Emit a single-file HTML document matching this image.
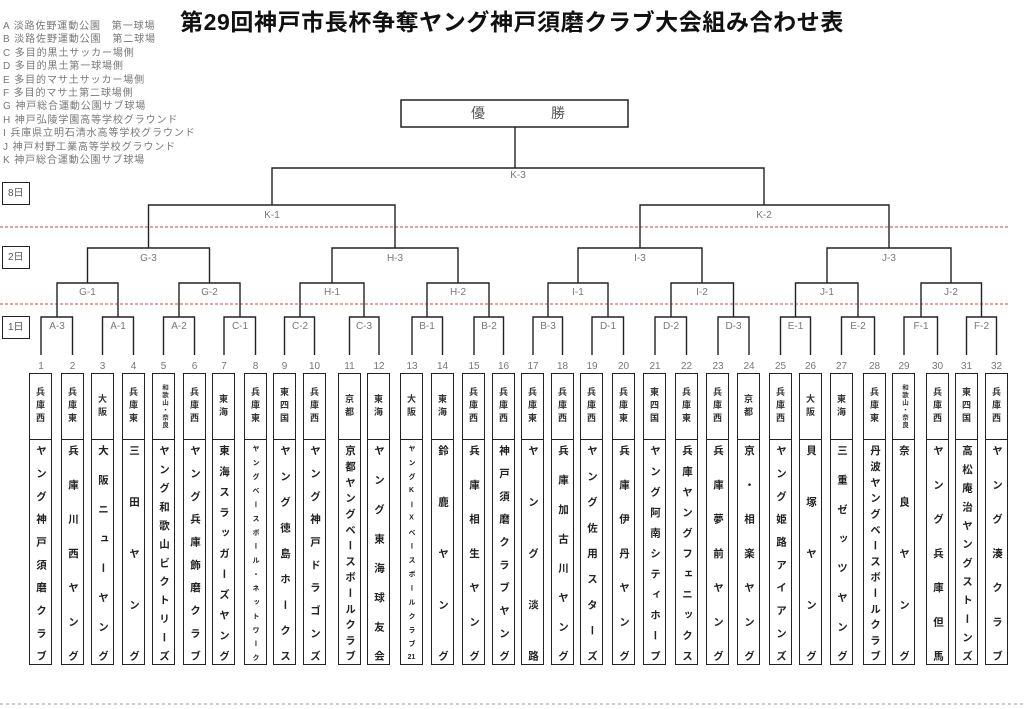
<!DOCTYPE html>
<html><head><meta charset="utf-8"><style>
body{margin:0;width:1024px;height:709px;background:#fff;position:relative;overflow:hidden;font-family:"Liberation Sans","Noto Sans CJK JP",sans-serif}
.t{position:absolute;left:0;width:1024px;top:3px;text-align:center;font-size:23px;font-weight:bold;color:#111;letter-spacing:0.6px}
.lg{position:absolute;left:3px;top:20px;font-size:10px;line-height:13.4px;color:#777;letter-spacing:0.9px}
.d{position:absolute;left:2px;width:26px;height:21px;border:1.5px solid #222;font-size:10px;color:#555;line-height:21px;text-indent:5px}
.b{position:absolute;top:373px;width:21px;height:290px;border:1.5px solid #222}
.r{position:absolute;left:0;top:0;width:21px;height:65px;border-bottom:1.5px solid #222;display:flex;align-items:center;justify-content:center}
.r span{writing-mode:vertical-rl;text-orientation:upright;font-size:9px;font-weight:bold;color:#333;letter-spacing:4px}
.r span.s{font-size:6.5px;letter-spacing:1px}
.n{position:absolute;left:0;top:71px;width:21px;height:216px;writing-mode:vertical-rl;text-orientation:upright;text-align:justify;text-align-last:justify;font-size:10.5px;font-weight:bold;color:#222;line-height:21px}
.n.s{font-size:7px}
</style></head><body>
<div class="t">第29回神戸市長杯争奪ヤング神戸須磨クラブ大会組み合わせ表</div>
<div class="lg">A 淡路佐野運動公園　第一球場<br>B 淡路佐野運動公園　第二球場<br>C 多目的黒土サッカー場側<br>D 多目的黒土第一球場側<br>E 多目的マサ土サッカー場側<br>F 多目的マサ土第二球場側<br>G 神戸総合運動公園サブ球場<br>H 神戸弘陵学園高等学校グラウンド<br>I 兵庫県立明石清水高等学校グラウンド<br>J 神戸村野工業高等学校グラウンド<br>K 神戸総合運動公園サブ球場</div>
<div class="d" style="top:182px">8日</div>
<div class="d" style="top:246px">2日</div>
<div class="d" style="top:316px">1日</div>
<svg width="1024" height="709" style="position:absolute;left:0;top:0" font-family="Liberation Sans, sans-serif" font-size="10" fill="#777" text-anchor="middle">
<rect x="401" y="100" width="227" height="27" fill="#fff" stroke="#222" stroke-width="1.5"/>
<text x="478" y="118" font-size="14" fill="#555">優</text><text x="558" y="118" font-size="14" fill="#555">勝</text>
<g stroke="#c44" stroke-width="1" stroke-dasharray="3,2"><line x1="0" y1="227" x2="1010" y2="227"/><line x1="0" y1="304" x2="1010" y2="304"/></g>
<line x1="0" y1="704" x2="1024" y2="704" stroke="#999" stroke-width="1" stroke-dasharray="3,3"/>
<g stroke="#222" stroke-width="1.4" fill="none">
<path d="M515 127V168M272 205V168H764V205"/>
<path d="M148.5 248V205H395V248M640 248V205H889V248"/>
<path d="M87.5 283V248H209.5V283M332 283V248H458V283M578 283V248H702V283M827 283V248H951V283"/>
<path d="M57 317V283H118V317M179 317V283H240V317M300 317V283H364V317M427 317V283H489V317M548 317V283H608V317M671 317V283H733.5V317M795.5 317V283H858V317M921 317V283H981.5V317"/>
<path d="M41 355V317H72.5V355M102.5 355V317H133.5V355M163.5 355V317H194.5V355M224 355V317H255.5V355M284.5 355V317H314.5V355M349.5 355V317H379V355M412 355V317H442.5V355M474 355V317H503.5V355M533 355V317H562.5V355M592 355V317H623.5V355M655 355V317H686.5V355M718 355V317H749V355M780.5 355V317H810.5V355M841.5 355V317H874.5V355M904 355V317H937.5V355M966.5 355V317H996.5V355"/>
</g>
<text x="518" y="178">K-3</text>
<text x="272" y="218">K-1</text><text x="764" y="218">K-2</text>
<text x="148.5" y="261">G-3</text><text x="395" y="261">H-3</text><text x="640" y="261">I-3</text><text x="889" y="261">J-3</text>
<text x="87.5" y="295">G-1</text><text x="209.5" y="295">G-2</text><text x="332" y="295">H-1</text><text x="458" y="295">H-2</text><text x="578" y="295">I-1</text><text x="702" y="295">I-2</text><text x="827" y="295">J-1</text><text x="951" y="295">J-2</text>
<text x="57" y="329">A-3</text><text x="118" y="329">A-1</text><text x="179" y="329">A-2</text><text x="240" y="329">C-1</text><text x="300" y="329">C-2</text><text x="364" y="329">C-3</text><text x="427" y="329">B-1</text><text x="489" y="329">B-2</text><text x="548" y="329">B-3</text><text x="608" y="329">D-1</text><text x="671" y="329">D-2</text><text x="733.5" y="329">D-3</text><text x="795.5" y="329">E-1</text><text x="858" y="329">E-2</text><text x="921" y="329">F-1</text><text x="981.5" y="329">F-2</text>
<g>
<text x="41" y="369">1</text><text x="72.5" y="369">2</text><text x="102.5" y="369">3</text><text x="133.5" y="369">4</text><text x="163.5" y="369">5</text><text x="194.5" y="369">6</text><text x="224" y="369">7</text><text x="255.5" y="369">8</text><text x="284.5" y="369">9</text><text x="314.5" y="369">10</text><text x="349.5" y="369">11</text><text x="379" y="369">12</text><text x="412" y="369">13</text><text x="442.5" y="369">14</text><text x="474" y="369">15</text><text x="503.5" y="369">16</text><text x="533" y="369">17</text><text x="562.5" y="369">18</text><text x="592" y="369">19</text><text x="623.5" y="369">20</text><text x="655" y="369">21</text><text x="686.5" y="369">22</text><text x="718" y="369">23</text><text x="749" y="369">24</text><text x="780.5" y="369">25</text><text x="810.5" y="369">26</text><text x="841.5" y="369">27</text><text x="874.5" y="369">28</text><text x="904" y="369">29</text><text x="937.5" y="369">30</text><text x="966.5" y="369">31</text><text x="996.5" y="369">32</text>
</g>
</svg>
<div class="b" style="left:29px"><div class="r"><span>兵庫西</span></div><div class="n">ヤング神戸須磨クラブ</div></div>
<div class="b" style="left:61px"><div class="r"><span>兵庫東</span></div><div class="n">兵庫川西ヤング</div></div>
<div class="b" style="left:91px"><div class="r"><span>大阪</span></div><div class="n">大阪ニューヤング</div></div>
<div class="b" style="left:122px"><div class="r"><span>兵庫東</span></div><div class="n">三田ヤング</div></div>
<div class="b" style="left:152px"><div class="r"><span class="s">和歌山・奈良</span></div><div class="n">ヤング和歌山ビクトリーズ</div></div>
<div class="b" style="left:183px"><div class="r"><span>兵庫西</span></div><div class="n">ヤング兵庫飾磨クラブ</div></div>
<div class="b" style="left:212px"><div class="r"><span>東海</span></div><div class="n">東海スラッガーズヤング</div></div>
<div class="b" style="left:244px"><div class="r"><span>兵庫東</span></div><div class="n s">ヤングベースボール・ネットワーク</div></div>
<div class="b" style="left:273px"><div class="r"><span>東四国</span></div><div class="n">ヤング徳島ホークス</div></div>
<div class="b" style="left:303px"><div class="r"><span>兵庫西</span></div><div class="n">ヤング神戸ドラゴンズ</div></div>
<div class="b" style="left:338px"><div class="r"><span>京都</span></div><div class="n">京都ヤングベースボールクラブ</div></div>
<div class="b" style="left:367px"><div class="r"><span>東海</span></div><div class="n">ヤング東海球友会</div></div>
<div class="b" style="left:400px"><div class="r"><span>大阪</span></div><div class="n s">ヤングKーXベースボールクラブ<span style="text-combine-upright:all">21</span></div></div>
<div class="b" style="left:431px"><div class="r"><span>東海</span></div><div class="n">鈴鹿ヤング</div></div>
<div class="b" style="left:462px"><div class="r"><span>兵庫西</span></div><div class="n">兵庫相生ヤング</div></div>
<div class="b" style="left:492px"><div class="r"><span>兵庫西</span></div><div class="n">神戸須磨クラブヤング</div></div>
<div class="b" style="left:521px"><div class="r"><span>兵庫東</span></div><div class="n">ヤング淡路</div></div>
<div class="b" style="left:551px"><div class="r"><span>兵庫西</span></div><div class="n">兵庫加古川ヤング</div></div>
<div class="b" style="left:580px"><div class="r"><span>兵庫西</span></div><div class="n">ヤング佐用スターズ</div></div>
<div class="b" style="left:612px"><div class="r"><span>兵庫東</span></div><div class="n">兵庫伊丹ヤング</div></div>
<div class="b" style="left:643px"><div class="r"><span>東四国</span></div><div class="n">ヤング阿南シティホープ</div></div>
<div class="b" style="left:675px"><div class="r"><span>兵庫東</span></div><div class="n">兵庫ヤングフェニックス</div></div>
<div class="b" style="left:706px"><div class="r"><span>兵庫西</span></div><div class="n">兵庫夢前ヤング</div></div>
<div class="b" style="left:737px"><div class="r"><span>京都</span></div><div class="n">京・相楽ヤング</div></div>
<div class="b" style="left:769px"><div class="r"><span>兵庫西</span></div><div class="n">ヤング姫路アイアンズ</div></div>
<div class="b" style="left:799px"><div class="r"><span>大阪</span></div><div class="n">貝塚ヤング</div></div>
<div class="b" style="left:830px"><div class="r"><span>東海</span></div><div class="n">三重ゼッツヤング</div></div>
<div class="b" style="left:863px"><div class="r"><span>兵庫東</span></div><div class="n">丹波ヤングベースボールクラブ</div></div>
<div class="b" style="left:892px"><div class="r"><span class="s">和歌山・奈良</span></div><div class="n">奈良ヤング</div></div>
<div class="b" style="left:926px"><div class="r"><span>兵庫西</span></div><div class="n">ヤング兵庫但馬</div></div>
<div class="b" style="left:955px"><div class="r"><span>東四国</span></div><div class="n">高松庵治ヤングストーンズ</div></div>
<div class="b" style="left:985px"><div class="r"><span>兵庫西</span></div><div class="n">ヤング湊クラブ</div></div>
</body></html>
